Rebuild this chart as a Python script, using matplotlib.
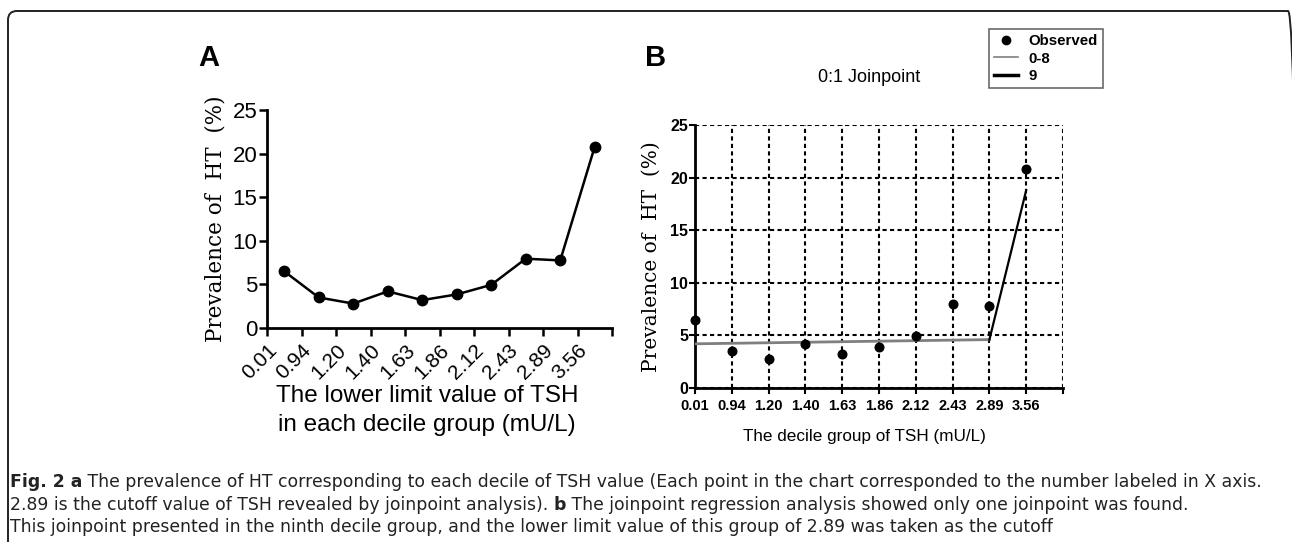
import matplotlib
matplotlib.use('Agg')
import matplotlib.pyplot as plt
from matplotlib.patches import FancyBboxPatch
from matplotlib.lines import Line2D
import numpy as np

# data
tsh_labels = ['0.01', '0.94', '1.20', '1.40', '1.63', '1.86', '2.12', '2.43', '2.89', '3.56']
prevalence = [6.5, 3.5, 2.8, 4.2, 3.2, 3.85, 4.95, 7.95, 7.75, 20.8]
# joinpoint fitted segments (group index, fitted %)
seg1_x = [0, 8]
seg1_y = [4.2, 4.6]
seg2_x = [8, 9]
seg2_y = [4.6, 18.8]

W, H = 1292, 542
fig = plt.figure(figsize=(W / 100, H / 100), dpi=100)
plt.rcParams['font.family'] = ['Liberation Sans', 'DejaVu Sans']


def rect(x0, y0, x1, y1):
    # pixel box -> figure fraction
    return [x0 / W, 1 - y1 / H, (x1 - x0) / W, (y1 - y0) / H]


serif = ['DejaVu Serif']

# outer frame with rounded corners (bottom and right edge fall outside)
frame = FancyBboxPatch((0.08, -1.0), (1297 - 8) / 100, 1.0 + (H - 11) / 100,
                       boxstyle='round,pad=0,rounding_size=0.09',
                       transform=fig.dpi_scale_trans, fill=False,
                       edgecolor='#222222', linewidth=1.4, clip_on=False)
fig.patches.append(frame)

# ---------- panel A ----------
axA = fig.add_axes(rect(267, 110, 612, 328))
xs = np.arange(len(prevalence)) + 0.5
axA.plot(xs, prevalence, color='black', lw=1.8, marker='o', ms=7.5, zorder=3, clip_on=False)
axA.set_xlim(0, 10)
axA.set_ylim(0, 25)
axA.set_yticks([0, 5, 10, 15, 20, 25])
axA.set_xticks(range(11))
axA.set_xticklabels(tsh_labels + [''], rotation=45, ha='right', rotation_mode='anchor',
                    fontsize=15)
axA.tick_params(axis='y', labelsize=16, width=1.8, length=6, direction='out', pad=1)
axA.tick_params(axis='x', width=1.8, length=6, direction='out', pad=3)
for s in ['top', 'right']:
    axA.spines[s].set_visible(False)
for s in ['left', 'bottom']:
    axA.spines[s].set_linewidth(2)
axA.set_ylabel('Prevalence of  HT  (%)', family=serif, fontsize=15.5, labelpad=4)
axA.set_xlabel('The lower limit value of TSH\nin each decile group (mU/L)', fontsize=17.5,
               linespacing=1.4)
axA.xaxis.set_label_coords(0.464, -0.262)
fig.text(209 / W, 1 - 58 / H, 'A', fontsize=21, fontweight='bold', ha='center', va='center')

# ---------- panel B ----------
axB = fig.add_axes(rect(695, 125, 1063, 388))
gx = np.arange(len(prevalence))
axB.set_xlim(0, 10)
axB.set_ylim(0, 25)
axB.set_xticks(range(11))
axB.set_xticklabels(tsh_labels + [''], fontsize=10.5, fontweight='bold')
axB.set_yticks([0, 5, 10, 15, 20, 25])
for lab in axB.get_yticklabels():
    lab.set_fontweight('bold')
axB.tick_params(axis='y', labelsize=11.5, width=1.5, length=4, pad=1)
axB.tick_params(axis='x', width=1.5, length=4, pad=4)
axB.grid(True, color='black', linestyle=(0, (2, 1.6)), linewidth=1.5)
axB.set_axisbelow(True)
for s in ['top', 'right']:
    axB.spines[s].set_visible(False)
for s in ['left', 'bottom']:
    axB.spines[s].set_linewidth(2)
axB.plot(seg1_x, seg1_y, color='#7f7f7f', lw=2, zorder=3)
axB.plot(seg2_x, seg2_y, color='black', lw=1.6, zorder=3)
axB.plot(gx, prevalence, 'o', color='black', ms=6.2, zorder=4, clip_on=False)
axB.set_ylabel('Prevalence of  HT  (%)', family=serif, fontsize=14.5, labelpad=7)
axB.set_xlabel('The decile group of TSH (mU/L)', fontsize=12.3)
axB.xaxis.set_label_coords(0.46, -0.155)
fig.text(656 / W, 1 - 58 / H, 'B', fontsize=21, fontweight='bold', ha='center', va='center')
fig.text(869 / W, 1 - 77 / H, '0:1 Joinpoint', fontsize=13, ha='center', va='center')

handles = [Line2D([], [], ls='none', marker='o', color='black', ms=6),
           Line2D([], [], color='#7f7f7f', lw=1.2),
           Line2D([], [], color='black', lw=2.5)]
leg = fig.legend(handles, ['Observed', '0-8', '9'], loc='upper left',
                 bbox_to_anchor=(989 / W, 1 - 29 / H), frameon=True, fancybox=False,
                 prop={'weight': 'bold', 'size': 10.8}, handlelength=1.6, handletextpad=0.7,
                 borderpad=0.35, labelspacing=0.22, borderaxespad=0)
leg.get_frame().set_edgecolor('#444444')
leg.get_frame().set_linewidth(1.2)

# ---------- caption ----------
cap_lines = [
    [('Fig. 2 a', 'bold'),
     (' The prevalence of HT corresponding to each decile of TSH value (Each point in the chart '
      'corresponded to the number labeled in X axis.', 'normal')],
    [('2.89 is the cutoff value of TSH revealed by joinpoint analysis). ', 'normal'),
     ('b', 'bold'),
     (' The joinpoint regression analysis showed only one joinpoint was found.', 'normal')],
    [('This joinpoint presented in the ninth decile group, and the lower limit value of this '
      'group of 2.89 was taken as the cutoff', 'normal')],
]
cap_y = [482, 505, 527]
fs = 12.4
renderer = fig.canvas.get_renderer()
for segs, yp in zip(cap_lines, cap_y):
    x = 10
    for txt, wt in segs:
        t = fig.text(x / W, 1 - yp / H, txt, fontsize=fs, fontweight=wt, va='center',
                     family=['DejaVu Sans'], color='#222222')
        bb = t.get_window_extent(renderer=renderer)
        x = bb.x1

fig.savefig('out.png', dpi=100)
